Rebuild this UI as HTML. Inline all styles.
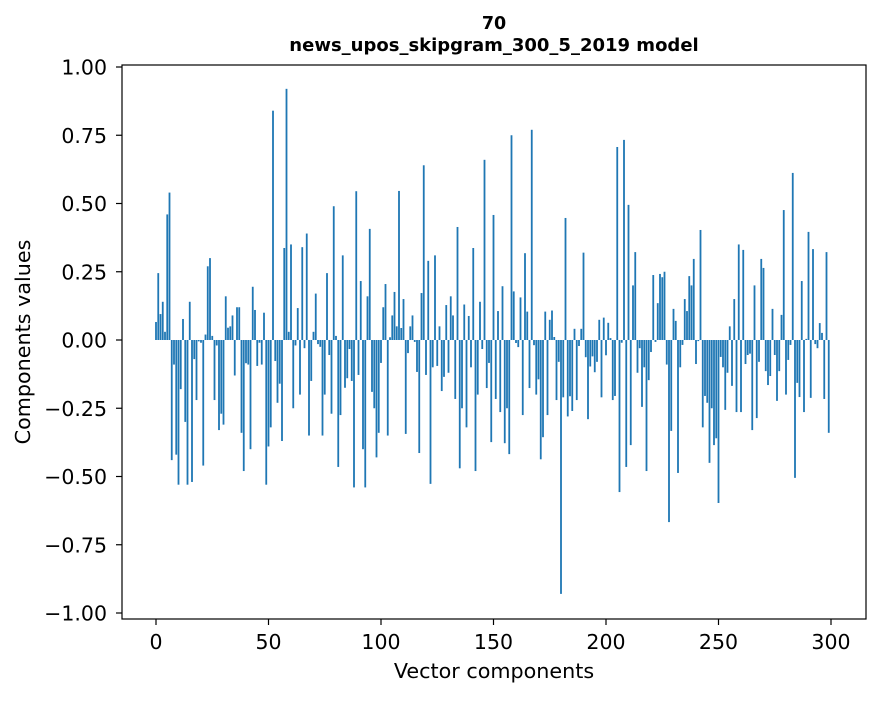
<!DOCTYPE html>
<html><head><meta charset="utf-8"><style>
body{margin:0;background:#fff;}
svg text{font-family:"DejaVu Sans","Liberation Sans",sans-serif;fill:#000;}
</style></head><body>
<svg width="880" height="696" xmlns="http://www.w3.org/2000/svg">
<rect width="880" height="696" fill="#fff"/>
<text x="494" y="29" text-anchor="middle" font-size="17.5" font-weight="bold">70</text>
<text x="494" y="51" text-anchor="middle" font-size="18" font-weight="bold">news_upos_skipgram_300_5_2019 model</text>
<g id="bars"></g>
<g id="axes"></g>
<rect x="122" y="65" width="744" height="554" fill="none" stroke="#000" stroke-width="1.2"/>
<text x="494" y="678" text-anchor="middle" font-size="20.7">Vector components</text>
<text x="0" y="0" transform="translate(30,342) rotate(-90)" text-anchor="middle" font-size="20.7">Components values</text>
</svg>
<script>
const valuesA=[0.066,0.245,0.095,0.14,0.03,0.46,0.54,-0.44,-0.09,-0.42,-0.53,-0.18,0.077,-0.3,-0.53,0.14,-0.52,-0.07,-0.22,-0.005,-0.01,-0.46,0.02,0.27,0.3,0.015,-0.22,-0.02,-0.33,-0.27,-0.31,0.16,0.045,0.05,0.09,-0.13,0.12,0.12,-0.34,-0.48,-0.085,-0.09,-0.4,0.195,0.11,-0.095,-0.01,-0.09,0.1,-0.53,-0.39];
const valuesB=[-0.32,0.84,-0.077,-0.23,-0.16,-0.37,0.337,0.92,0.03,0.35,-0.25,-0.02,0.117,-0.2,0.34,-0.03,0.39,-0.35,-0.15,0.03,0.17,-0.015,-0.025,-0.35,-0.2,0.245,-0.055,-0.27,0.49,0.015,-0.465,-0.275,0.31,-0.175,-0.14,-0.033,-0.15,-0.54,0.545,-0.128,0.216,-0.4,-0.54,0.16,0.407,-0.19,-0.25,-0.43,-0.34,-0.084,0.12];
const valuesC=[0.205,-0.35,0.01,0.09,0.176,0.05,0.546,0.044,0.15,-0.344,-0.048,0.05,0.09,-0.007,-0.117,-0.414,0.172,0.64,-0.128,0.29,-0.527,-0.1,0.31,-0.095,0.05,-0.187,-0.135,0.128,-0.12,0.16,0.09,-0.216,0.414,-0.47,-0.25,0.13,-0.32,0.088,-0.1,0.337,-0.48,-0.2,0.14,-0.033,0.66,-0.176,-0.084,-0.374,0.458,-0.216,0.106];
const valuesD=[-0.264,0.197,-0.378,-0.25,-0.418,0.75,0.178,-0.011,-0.026,0.156,-0.275,0.318,0.104,-0.176,0.77,-0.019,-0.2,-0.144,-0.437,-0.356,0.104,-0.275,0.074,0.108,0.011,-0.22,-0.08,-0.93,-0.21,0.447,-0.28,-0.206,-0.26,0.041,-0.22,-0.022,0.041,0.32,-0.063,-0.29,-0.097,-0.06,-0.118,-0.08,0.074,-0.21,0.082,-0.056,0.063];
const valuesE=[0.007,-0.22,-0.205,0.707,-0.557,-0.01,0.733,-0.465,0.495,-0.385,0.2,0.322,-0.12,-0.03,-0.245,-0.1,-0.48,-0.147,-0.044,0.238,-0.007,0.135,0.242,0.23,0.25,-0.09,-0.667,-0.333,0.114,0.07,-0.487,-0.1,-0.018,0.15,0.106,0.234,0.2,0.297,-0.088,-0.004,0.403,-0.32,-0.205,-0.23,-0.45,-0.25,-0.385,-0.36,-0.597,-0.062,-0.1];
const valuesF=[-0.256,-0.12,0.05,-0.168,0.15,-0.264,0.35,-0.264,0.33,-0.088,-0.055,-0.05,-0.33,0.2,-0.286,-0.08,0.297,0.264,-0.114,-0.165,-0.132,0.114,-0.055,-0.223,-0.114,0.092,0.476,-0.2,-0.073,-0.018,0.612,-0.505,-0.157,-0.209,0.216,-0.264,0.004,0.396,-0.212,0.333,-0.015,-0.03,0.062,0.026,-0.216,0.322,-0.34];
const xTicks=[0,50,100,150,200,250,300];
const yTicks=[1.0,0.75,0.5,0.25,0,-0.25,-0.5,-0.75,-1.0];
const yTickLabels=["1.00","0.75","0.50","0.25","0.00","\u22120.25","\u22120.50","\u22120.75","\u22121.00"];
const values=[].concat(valuesA,valuesB,valuesC,valuesD,valuesE,valuesF);
const NS="http://www.w3.org/2000/svg";
function xs(i){return 156+i*2.25;}
function ys(v){return 340-v*273;}
const bars=document.getElementById('bars');
values.forEach((v,i)=>{
  const r=document.createElementNS(NS,'rect');
  const y0=ys(0),y1=ys(v);
  r.setAttribute('x',xs(i)-0.9);
  r.setAttribute('width',1.8);
  r.setAttribute('y',Math.min(y0,y1));
  r.setAttribute('height',Math.abs(y1-y0));
  r.setAttribute('fill','#1f77b4');
  
  
  bars.appendChild(r);
});
const ax=document.getElementById('axes');
xTicks.forEach(t=>{
  const l=document.createElementNS(NS,'line');
  l.setAttribute('x1',xs(t));l.setAttribute('x2',xs(t));
  l.setAttribute('y1',619);l.setAttribute('y2',625);
  l.setAttribute('stroke','#000');l.setAttribute('stroke-width','1.2');
  
  
  ax.appendChild(l);
  const tx=document.createElementNS(NS,'text');
  tx.setAttribute('x',xs(t));tx.setAttribute('y',649);
  tx.setAttribute('text-anchor','middle');tx.setAttribute('font-size','20.5');
  tx.textContent=String(t);
  
  
  ax.appendChild(tx);
});
yTicks.forEach((t,k)=>{
  const l=document.createElementNS(NS,'line');
  l.setAttribute('x1',116);l.setAttribute('x2',122);
  l.setAttribute('y1',ys(t));l.setAttribute('y2',ys(t));
  l.setAttribute('stroke','#000');l.setAttribute('stroke-width','1.2');
  
  
  ax.appendChild(l);
  const tx=document.createElementNS(NS,'text');
  tx.setAttribute('x',107);tx.setAttribute('y',ys(t)+7.5);
  tx.setAttribute('text-anchor','end');tx.setAttribute('font-size','20.5');
  tx.textContent=yTickLabels[k];
  
  
  ax.appendChild(tx);
});
</script>
</body></html>
